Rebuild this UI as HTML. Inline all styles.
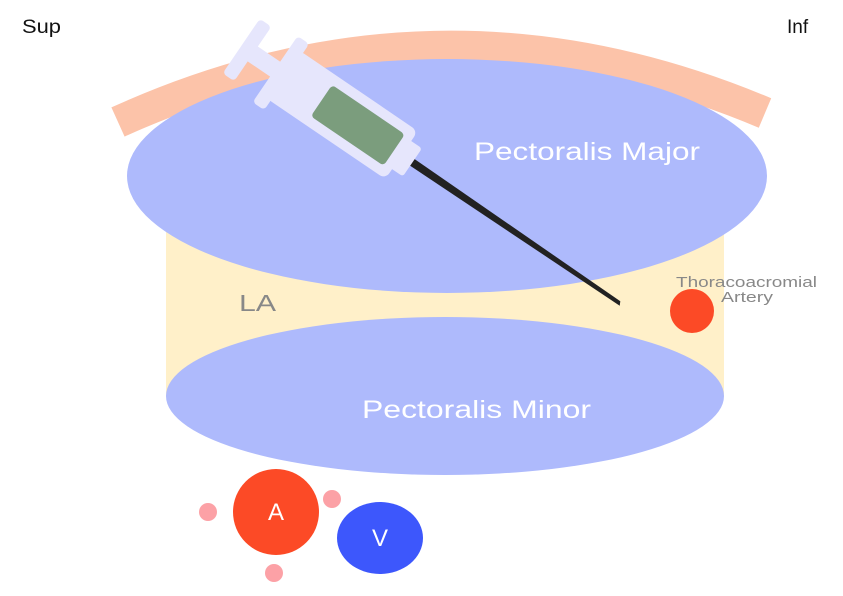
<!DOCTYPE html>
<html><head><style>body{margin:0;background:#fff}svg{display:block}text{font-family:"Liberation Sans",sans-serif}</style></head><body>
<svg width="843" height="596" viewBox="0 0 843 596">
<rect width="843" height="596" fill="#fff"/>
<path d="M118 122 Q440 -24 765 113" stroke="#fcc3a9" stroke-width="32" fill="none"/>
<rect x="166" y="176" width="558" height="220" fill="#fff0c9"/>
<ellipse cx="447" cy="176" rx="320" ry="117" fill="#aebafc"/>
<ellipse cx="445" cy="396" rx="279" ry="79" fill="#aebafc"/>
<text x="474" y="160" font-size="25" fill="#fff" textLength="226" lengthAdjust="spacingAndGlyphs">Pectoralis Major</text>
<text x="362" y="418" font-size="25" fill="#fff" textLength="229" lengthAdjust="spacingAndGlyphs">Pectoralis Minor</text>
<text x="239" y="311" font-size="23" fill="#888" textLength="37" lengthAdjust="spacingAndGlyphs">LA</text>
<circle cx="692" cy="311" r="22" fill="#fc4a26"/>
<text x="676" y="287" font-size="15" fill="#888" textLength="141" lengthAdjust="spacingAndGlyphs">Thoracoacromial</text>
<text x="721" y="302" font-size="15" fill="#888" textLength="52" lengthAdjust="spacingAndGlyphs">Artery</text>
<g transform="translate(247,50) rotate(34.2)">
<path d="M198 -4 L450 -2 L452 2 L198 4 Z" fill="#222"/>
<rect x="-7" y="-33" width="14" height="66" rx="4" fill="#e6e6fc"/>
<rect x="0" y="-9" width="45" height="18" fill="#e6e6fc"/>
<rect x="34" y="-40" width="14" height="80" rx="4" fill="#e6e6fc"/>
<rect x="42" y="-29" width="145" height="58" rx="7" fill="#e6e6fc"/>
<rect x="183" y="-17" width="17" height="34" rx="3" fill="#e6e6fc"/>
<rect x="90" y="-19" width="88" height="38" rx="4" fill="#7b9d7d"/>
</g>
<circle cx="208" cy="512" r="9" fill="#fca1a6"/>
<circle cx="332" cy="499" r="9" fill="#fca1a6"/>
<circle cx="274" cy="573" r="9" fill="#fca1a6"/>
<circle cx="276" cy="512" r="43" fill="#fc4a26"/>
<ellipse cx="380" cy="538" rx="43" ry="36" fill="#3d57fc"/>
<text x="276" y="520" font-size="24" fill="#fff" text-anchor="middle">A</text>
<text x="380" y="546" font-size="24" fill="#fff" text-anchor="middle">V</text>
<text x="22" y="33" font-size="19" fill="#111" textLength="39" lengthAdjust="spacingAndGlyphs">Sup</text>
<text x="787" y="33" font-size="19" fill="#111">Inf</text>
</svg>
</body></html>
